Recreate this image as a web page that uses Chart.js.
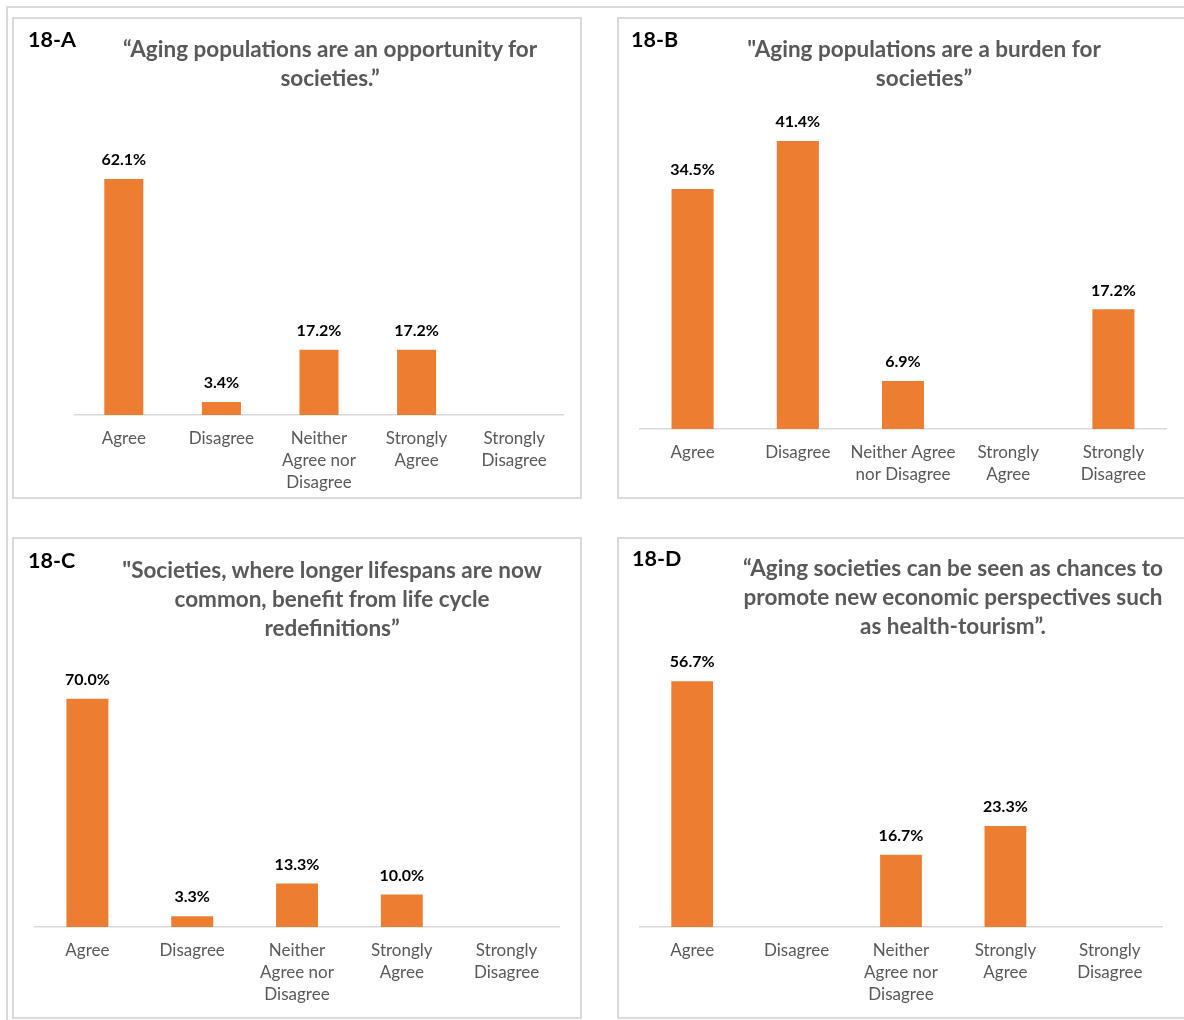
<!DOCTYPE html>
<html>
<head>
<meta charset="utf-8">
<script src="https://cdn.jsdelivr.net/npm/chart.js@4.4.1/dist/chart.umd.min.js"></script>
<style>
    html, body { margin: 0; padding: 0; background: #fff; }
    body { width: 1184px; height: 1020px; position: relative; overflow: hidden; font-family: Lato, "Open Sans", sans-serif; }
    #frame { position: absolute; left: 6px; top: 6px; width: 1300px; height: 1100px; border-top: 2px solid #dadada; border-left: 2px solid #dadada; }
    .panel { position: absolute; box-sizing: border-box; border: 2px solid #dadada; background: #fff; }
    .panel canvas { position: absolute; left: 0; top: 0; }
    .tag { position: absolute; font-weight: 700; font-size: 21.5px; color: #000; line-height: 24px; }
    .title { position: absolute; font-weight: 700; font-size: 22.5px; color: #595959; line-height: 29px; text-align: center; width: 520px; white-space: nowrap; }
</style>
</head>
<body>
<div id="frame"></div>

<script>
// survey answers, one set per statement
const categoriesA = ['Agree', 'Disagree', ['Neither', 'Agree nor', 'Disagree'], ['Strongly', 'Agree'], ['Strongly', 'Disagree']];
const categoriesB = ['Agree', 'Disagree', ['Neither Agree', 'nor Disagree'], ['Strongly', 'Agree'], ['Strongly', 'Disagree']];
const categoriesC = categoriesA;
const categoriesD = categoriesA;

const valuesA = [62.1, 3.4, 17.2, 17.2, 0];
const valuesB = [34.5, 41.4, 6.9, 0, 17.2];
const valuesC = [70.0, 3.3, 13.3, 10.0, 0];
const valuesD = [56.7, 0, 16.7, 23.3, 0];

// hidden value axis maximum for each chart
const axisMaxA = 70;
const axisMaxB = 45;
const axisMaxC = 80;
const axisMaxD = 60;

const titleA = ['\u201CAging populations are an opportunity for', 'societies.\u201D'];
const titleB = ['"Aging populations are a burden for', 'societies\u201D'];
const titleC = ['"Societies, where longer lifespans are now', 'common, benefit from life cycle', 'redefinitions\u201D'];
const titleD = ['\u201CAging societies can be seen as chances to', 'promote new economic perspectives such', 'as health-tourism\u201D.'];

const orange = '#ED7D31';
const gray = '#595959';

// box = panel border, plot = [left, right, top, axis line]
const panels = [
    { tag: '18-A', title: titleA, labels: categoriesA, values: valuesA, max: axisMaxA,
      box: [12, 17, 570, 482], plot: [75, 563, 149, 415], titleX: 330, titleY: 48, tagX: 28 },
    { tag: '18-B', title: titleB, labels: categoriesB, values: valuesB, max: axisMaxB,
      box: [617, 17, 580, 482], plot: [640, 1166, 116, 429], titleX: 924, titleY: 48, tagX: 631 },
    { tag: '18-C', title: titleC, labels: categoriesC, values: valuesC, max: axisMaxC,
      box: [12, 537, 570, 482], plot: [35, 559, 666, 927], titleX: 332, titleY: 569, tagX: 28 },
    { tag: '18-D', title: titleD, labels: categoriesD, values: valuesD, max: axisMaxD,
      box: [617, 537, 580, 482], plot: [640, 1162, 667, 927], titleX: 953, titleY: 567, tagX: 632 }
];

// percent labels above each non-empty bar
const barValues = {
    id: 'barValues',
    afterDatasetsDraw(chart) {
        const ctx = chart.ctx;
        const meta = chart.getDatasetMeta(0);
        const data = chart.data.datasets[0].data;
        ctx.save();
        ctx.font = 'bold 16px Lato, sans-serif';
        ctx.fillStyle = '#000';
        ctx.textAlign = 'center';
        ctx.textBaseline = 'middle';
        meta.data.forEach((bar, i) => {
            if (!data[i]) return;
            ctx.fillText(data[i].toFixed(1) + '%', bar.x, bar.y - 19);
        });
        ctx.restore();
    }
};

panels.forEach(p => {
    const [bx, by, bw, bh] = p.box;
    const [left, right, top, axisY] = p.plot;

    const panel = document.createElement('div');
    panel.className = 'panel';
    panel.style.left = bx + 'px';
    panel.style.top = by + 'px';
    panel.style.width = bw + 'px';
    panel.style.height = bh + 'px';
    document.body.appendChild(panel);

    const canvas = document.createElement('canvas');
    canvas.width = bw;
    canvas.height = bh;
    canvas.style.left = '-2px';
    canvas.style.top = '-2px';
    panel.appendChild(canvas);

    const tag = document.createElement('div');
    tag.className = 'tag';
    tag.textContent = p.tag;
    tag.style.left = (p.tagX - bx - 2) + 'px';
    tag.style.top = (p.titleY - 9 - 12 - by - 2) + 'px';
    panel.appendChild(tag);

    const title = document.createElement('div');
    title.className = 'title';
    title.innerHTML = p.title.join('<br>');
    title.style.left = (p.titleX - 260 - bx - 2) + 'px';
    title.style.top = (p.titleY - 14.5 - by - 2) + 'px';
    panel.appendChild(title);

    new Chart(canvas, {
        type: 'bar',
        data: {
            labels: p.labels,
            datasets: [{
                data: p.values,
                backgroundColor: orange,
                barPercentage: 0.4,
                categoryPercentage: 1
            }]
        },
        options: {
            responsive: false,
            animation: false,
            layout: {
                padding: {
                    left: left - bx,
                    right: bx + bw - right,
                    top: top - by,
                    bottom: 0
                }
            },
            scales: {
                x: {
                    grid: { display: false, drawTicks: false },
                    border: { color: '#d9d9d9', width: 1.5 },
                    ticks: {
                        color: gray,
                        padding: 13,
                        maxRotation: 0,
                        minRotation: 0,
                        autoSkip: false,
                        font: { family: 'Lato', size: 17, lineHeight: '22px' }
                    },
                    afterFit: (scale) => { scale.height = by + bh - axisY; }
                },
                y: {
                    display: false,
                    min: 0,
                    max: p.max
                }
            },
            plugins: {
                legend: { display: false },
                tooltip: { enabled: false },
                title: { display: false }
            }
        },
        plugins: [barValues]
    });
});
</script>
</body>
</html>
